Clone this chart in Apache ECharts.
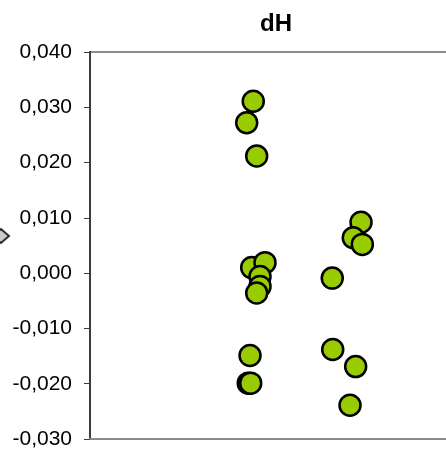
<!DOCTYPE html>
<html>
<head>
<meta charset="utf-8">
<script src="https://cdn.jsdelivr.net/npm/echarts@6/dist/echarts.min.js"></script>
<style>html,body{margin:0;padding:0;background:#fff}#c{width:446px;height:454px}</style>
</head>
<body>
<div id="c"></div>
<script>
var chartTitle = 'dH';
var xValues = [1.765, 1.694, 1.802, 1.748, 1.892, 1.838, 1.838, 1.802, 1.730, 1.711, 1.737, 2.619, 2.624, 2.872, 2.811, 2.930, 2.846, 2.944];
var yValues = [0.0311, 0.0272, 0.0212, 0.0010, 0.0019, -0.0006, -0.0024, -0.0036, -0.0149, -0.0199, -0.0199, -0.0009, -0.0138, -0.0169, -0.0239, 0.0092, 0.0064, 0.0052];
var yTicks = [-0.03, -0.02, -0.01, 0, 0.01, 0.02, 0.03, 0.04];

var points = xValues.map(function (x, i) { return [x, yValues[i]]; });

var chart = echarts.init(document.getElementById('c'));
chart.setOption({
  animation: false,
  title: {
    text: chartTitle, left: 255, top: 7,
    textStyle: { fontFamily: 'Liberation Sans', fontWeight: 'bold', fontSize: 24, color: '#000' }
  },
  legend: {
    left: -8, top: 228, padding: 0, itemWidth: 16, itemHeight: 14,
    data: [{ name: 'ref', icon: 'diamond' }],
    formatter: function () { return ''; },
    selectedMode: false
  },
  grid: {
    left: 90, top: 52, width: 370, height: 387,
    outerBoundsMode: 'none', containLabel: false,
    show: true, borderColor: '#8c8c8c', borderWidth: 2, backgroundColor: 'transparent'
  },
  xAxis: {
    type: 'value', min: 0, max: 4,
    axisLine: { show: true, onZero: false, lineStyle: { color: '#8c8c8c', width: 2 } },
    axisTick: { show: false }, axisLabel: { show: false }, splitLine: { show: false }
  },
  yAxis: {
    type: 'value', min: yTicks[0], max: yTicks[yTicks.length - 1], interval: 0.01,
    axisLine: { show: true, lineStyle: { color: '#3c3c3c', width: 2 } },
    axisTick: { show: true, inside: false, length: 6, lineStyle: { color: '#3c3c3c', width: 1 } },
    splitLine: { show: false },
    axisLabel: {
      margin: 18, fontFamily: 'Liberation Sans', fontSize: 21, color: '#000',
      formatter: function (v) { return v.toFixed(3).replace('.', ','); }
    }
  },
  series: [
    {
      name: 'dH', type: 'scatter', data: points, symbolSize: 21,
      itemStyle: { color: '#99cc00', borderColor: '#000', borderWidth: 2.5, opacity: 1 }
    },
    {
      name: 'ref', type: 'scatter', data: [], symbol: 'diamond',
      itemStyle: { color: '#bfbfbf', borderColor: '#000', borderWidth: 1.5 }
    }
  ]
});
</script>
</body>
</html>
